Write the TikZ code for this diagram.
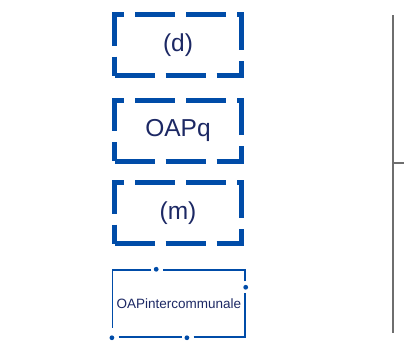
\documentclass[tikz,border=0pt]{standalone}
\usepackage{fontspec}
\setmainfont{Liberation Sans}
\usepackage{xcolor}
\usetikzlibrary{positioning}
\definecolor{boxblue}{RGB}{0,76,168}
\definecolor{textnavy}{RGB}{28,40,100}
\definecolor{linegray}{RGB}{110,110,110}

\begin{document}
\begin{tikzpicture}[x=1pt,y=-1pt,
  dbox/.style={draw=boxblue, line width=5pt, dash pattern=on 40pt off 11pt,
    minimum width=127pt, minimum height=61pt, inner sep=0pt,
    text=textnavy, font=\fontsize{24.5}{26}\selectfont},
  dotbox/.style={draw=boxblue, line width=1.5pt,
    dash pattern=on 0pt off 6pt on 63pt off 6pt on 0pt off 6pt on 95pt off 6pt on 0pt off 6pt on 93pt off 6pt on 0pt off 6pt on 96.6pt off 6pt,
    minimum width=132.3pt, minimum height=67pt, inner sep=0pt,
    text=textnavy, font=\fontsize{13.5}{15}\selectfont},
  bead/.style={fill=boxblue}]
\useasboundingbox (0,0) rectangle (404,341);

% Boxes
\node[dbox] (d) at (178,45) {(d)};
\node[dbox] (q) at (178,130.5) {OAPq};
\node[dbox] (m) at (178,213) {(m)};
\node[dotbox] (ic) at (178.8,303.5) {OAPintercommunale};

% Dots on the thin box
\fill[bead] (ic.south west) circle (2.4pt);
\fill[bead] ([xshift=75pt]ic.south west) circle (2.4pt);
\fill[bead] ([yshift=50.5pt]ic.south east) circle (2.4pt);
\fill[bead] ([xshift=-89.5pt]ic.north east) circle (2.4pt);

% Axis on the right
\coordinate (top) at (393,15);
\coordinate (bot) at (393,333);
\coordinate (mid) at (393,163);
\coordinate (tick) at (404,163);
\draw[linegray, line width=1.5pt] (top) -- (bot);
\draw[linegray, line width=1.2pt] (mid) -- (tick);
\end{tikzpicture}
\end{document}
